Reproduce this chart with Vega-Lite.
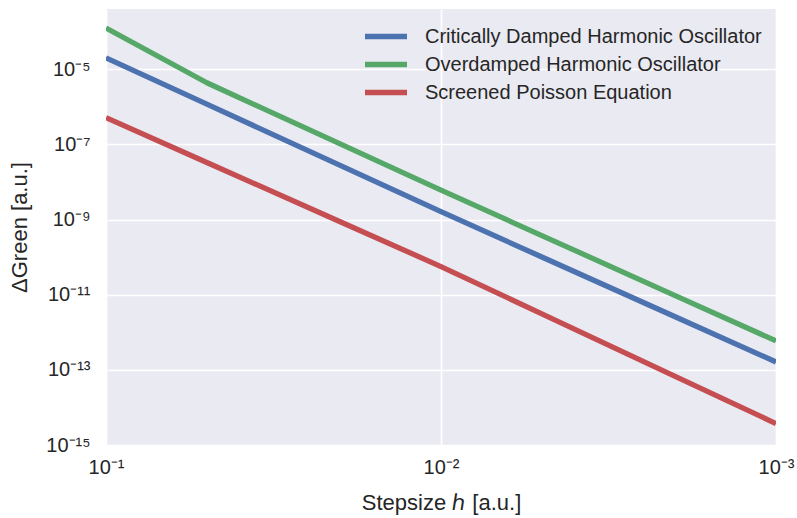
{
  "$schema": "https://vega.github.io/schema/vega-lite/v6.json",
  "width": 670,
  "height": 436,
  "autosize": {"type": "none"},
  "padding": {"left": 106, "top": 9, "right": 21, "bottom": 73},
  "background": "white",
  "config": {
    "font": "Liberation Sans",
    "view": {"fill": "#EAEAF2", "stroke": null},
    "axis": {
      "domain": false,
      "ticks": false,
      "gridColor": "white",
      "gridWidth": 1.7,
      "gridOpacity": 1,
      "labelColor": "#262626",
      "titleColor": "#262626",
      "labelFont": "Liberation Sans",
      "titleFont": "Liberation Sans",
      "labelFontSize": 20,
      "titleFontSize": 22,
      "titleFontWeight": "normal"
    }
  },
  "data": {
    "values": [
      {"h": 0.1, "err": 2.02e-5, "series": "Critically Damped Harmonic Oscillator"},
      {"h": 0.05, "err": 1.18e-6, "series": "Critically Damped Harmonic Oscillator"},
      {"h": 0.02, "err": 2.77e-8, "series": "Critically Damped Harmonic Oscillator"},
      {"h": 0.01, "err": 1.62e-9, "series": "Critically Damped Harmonic Oscillator"},
      {"h": 0.005, "err": 1.01e-10, "series": "Critically Damped Harmonic Oscillator"},
      {"h": 0.002, "err": 2.59e-12, "series": "Critically Damped Harmonic Oscillator"},
      {"h": 0.001, "err": 1.62e-13, "series": "Critically Damped Harmonic Oscillator"},
      {"h": 0.1, "err": 1.26e-4, "series": "Overdamped Harmonic Oscillator"},
      {"h": 0.05, "err": 4.39e-6, "series": "Overdamped Harmonic Oscillator"},
      {"h": 0.02, "err": 1.03e-7, "series": "Overdamped Harmonic Oscillator"},
      {"h": 0.01, "err": 6.07e-9, "series": "Overdamped Harmonic Oscillator"},
      {"h": 0.005, "err": 3.76e-10, "series": "Overdamped Harmonic Oscillator"},
      {"h": 0.002, "err": 9.5e-12, "series": "Overdamped Harmonic Oscillator"},
      {"h": 0.001, "err": 5.89e-13, "series": "Overdamped Harmonic Oscillator"},
      {"h": 0.1, "err": 5.16e-7, "series": "Screened Poisson Equation"},
      {"h": 0.05, "err": 3.31e-8, "series": "Screened Poisson Equation"},
      {"h": 0.02, "err": 8.77e-10, "series": "Screened Poisson Equation"},
      {"h": 0.01, "err": 5.62e-11, "series": "Screened Poisson Equation"},
      {"h": 0.005, "err": 3.1e-12, "series": "Screened Poisson Equation"},
      {"h": 0.002, "err": 6.73e-14, "series": "Screened Poisson Equation"},
      {"h": 0.001, "err": 3.72e-15, "series": "Screened Poisson Equation"}
    ]
  },
  "mark": {"type": "line", "strokeWidth": 5.3, "strokeJoin": "round", "clip": true},
  "encoding": {
    "x": {
      "field": "h",
      "type": "quantitative",
      "scale": {"type": "log", "domain": [0.001, 0.1], "reverse": true, "nice": false},
      "axis": {
        "values": [0.1, 0.01, 0.001],
        "title": "Stepsize ℎ [a.u.]",
        "titlePadding": 15,
        "labelPadding": 12,
        "labelFlush": false,
        "labelExpr": "datum.value > 0.05 ? '10⁻¹' : datum.value > 0.005 ? '10⁻²' : '10⁻³'"
      }
    },
    "y": {
      "field": "err",
      "type": "quantitative",
      "scale": {"type": "log", "domain": [1e-15, 4.03e-4], "nice": false},
      "axis": {
        "values": [1e-15, 1e-13, 1e-11, 1e-9, 1e-7, 1e-5],
        "title": "ΔGreen [a.u.]",
        "titlePadding": 14,
        "labelPadding": 16,
        "labelFlush": false,
        "labelExpr": "round(log(datum.value)/LN10) == -5 ? '10⁻⁵' : round(log(datum.value)/LN10) == -7 ? '10⁻⁷' : round(log(datum.value)/LN10) == -9 ? '10⁻⁹' : round(log(datum.value)/LN10) == -11 ? '10⁻¹¹' : round(log(datum.value)/LN10) == -13 ? '10⁻¹³' : '10⁻¹⁵'"
      }
    },
    "color": {
      "field": "series",
      "type": "nominal",
      "scale": {
        "domain": ["Critically Damped Harmonic Oscillator", "Overdamped Harmonic Oscillator", "Screened Poisson Equation"],
        "range": ["#4C72B0", "#55A868", "#C44E52"]
      },
      "legend": {
        "title": null,
        "orient": "top-right",
        "offset": 14,
        "padding": 0,
        "symbolType": "M-3,0H1",
        "symbolSize": 441,
        "symbolStrokeWidth": 5.3,
        "symbolFillColor": "transparent",
        "labelFontSize": 20,
        "labelColor": "#262626",
        "labelFont": "Liberation Sans",
        "labelOffset": 15,
        "labelLimit": 600,
        "rowPadding": 3
      }
    }
  }
}
